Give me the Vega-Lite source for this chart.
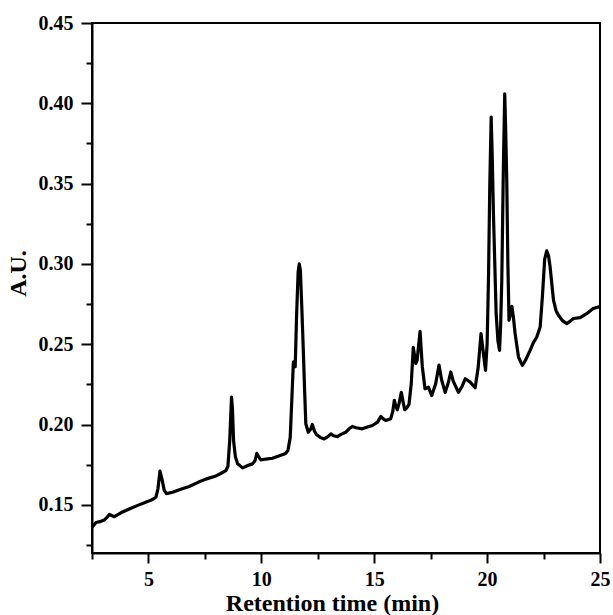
{
  "$schema": "https://vega.github.io/schema/vega-lite/v6.json",
  "width": 508,
  "height": 530,
  "autosize": {"type": "none"},
  "padding": {"left": 92, "top": 23, "right": 13, "bottom": 62},
  "background": "white",
  "config": {
    "view": {"stroke": "black", "strokeWidth": 2},
    "axis": {
      "grid": false,
      "domainColor": "black",
      "domainWidth": 2,
      "tickColor": "black",
      "tickWidth": 2,
      "labelFont": "Liberation Serif",
      "labelFontWeight": "bold",
      "labelFontSize": 20,
      "labelColor": "black",
      "titleFont": "Liberation Serif",
      "titleFontWeight": "bold",
      "titleFontSize": 24,
      "titleColor": "black",
      "labelOverlap": false,
      "labelFlush": false
    }
  },
  "data": {
    "values": [
      {"t": 2.5, "au": 0.136}, {"t": 2.68, "au": 0.139}, {"t": 2.85, "au": 0.1395}, {"t": 3.04, "au": 0.1405},
      {"t": 3.15, "au": 0.142}, {"t": 3.27, "au": 0.144}, {"t": 3.49, "au": 0.1426}, {"t": 3.8, "au": 0.1452},
      {"t": 4.15, "au": 0.1474}, {"t": 4.5, "au": 0.1495}, {"t": 4.96, "au": 0.152}, {"t": 5.2, "au": 0.1535},
      {"t": 5.33, "au": 0.1547}, {"t": 5.42, "au": 0.16}, {"t": 5.51, "au": 0.171}, {"t": 5.6, "au": 0.166},
      {"t": 5.7, "au": 0.159}, {"t": 5.8, "au": 0.157}, {"t": 6.07, "au": 0.1578}, {"t": 6.4, "au": 0.1595},
      {"t": 6.8, "au": 0.1614}, {"t": 7.2, "au": 0.164}, {"t": 7.54, "au": 0.166}, {"t": 7.99, "au": 0.168},
      {"t": 8.2, "au": 0.1695}, {"t": 8.43, "au": 0.1713}, {"t": 8.52, "au": 0.174}, {"t": 8.6, "au": 0.19},
      {"t": 8.68, "au": 0.217}, {"t": 8.72, "au": 0.21}, {"t": 8.77, "au": 0.19}, {"t": 8.85, "au": 0.18},
      {"t": 8.95, "au": 0.1755}, {"t": 9.17, "au": 0.173}, {"t": 9.4, "au": 0.1745}, {"t": 9.61, "au": 0.1755},
      {"t": 9.72, "au": 0.1775}, {"t": 9.8, "au": 0.182}, {"t": 9.88, "au": 0.18}, {"t": 9.98, "au": 0.178},
      {"t": 10.2, "au": 0.1785}, {"t": 10.49, "au": 0.179}, {"t": 10.8, "au": 0.1805}, {"t": 11.08, "au": 0.182},
      {"t": 11.18, "au": 0.184}, {"t": 11.28, "au": 0.192}, {"t": 11.38, "au": 0.2254}, {"t": 11.42, "au": 0.239},
      {"t": 11.5, "au": 0.236}, {"t": 11.56, "au": 0.267}, {"t": 11.63, "au": 0.295}, {"t": 11.68, "au": 0.3},
      {"t": 11.73, "au": 0.296}, {"t": 11.8, "au": 0.27}, {"t": 11.86, "au": 0.246}, {"t": 11.92, "au": 0.22},
      {"t": 11.97, "au": 0.2005}, {"t": 12.08, "au": 0.1952}, {"t": 12.18, "au": 0.197}, {"t": 12.26, "au": 0.2},
      {"t": 12.35, "au": 0.196}, {"t": 12.44, "au": 0.1938}, {"t": 12.6, "au": 0.192}, {"t": 12.78, "au": 0.191},
      {"t": 12.95, "au": 0.1925}, {"t": 13.08, "au": 0.1942}, {"t": 13.2, "au": 0.193}, {"t": 13.37, "au": 0.1925},
      {"t": 13.55, "au": 0.194}, {"t": 13.74, "au": 0.1952}, {"t": 13.9, "au": 0.1975}, {"t": 14.03, "au": 0.1988},
      {"t": 14.2, "au": 0.198}, {"t": 14.47, "au": 0.1973}, {"t": 14.7, "au": 0.1985}, {"t": 14.92, "au": 0.1994},
      {"t": 15.15, "au": 0.2015}, {"t": 15.29, "au": 0.205}, {"t": 15.4, "au": 0.2035}, {"t": 15.51, "au": 0.2025},
      {"t": 15.73, "au": 0.2036}, {"t": 15.82, "au": 0.208}, {"t": 15.89, "au": 0.215}, {"t": 15.95, "au": 0.212},
      {"t": 16.02, "au": 0.2092}, {"t": 16.1, "au": 0.213}, {"t": 16.2, "au": 0.22}, {"t": 16.28, "au": 0.214},
      {"t": 16.35, "au": 0.2092}, {"t": 16.44, "au": 0.2104}, {"t": 16.54, "au": 0.2125}, {"t": 16.64, "au": 0.2254},
      {"t": 16.73, "au": 0.248}, {"t": 16.84, "au": 0.238}, {"t": 16.9, "au": 0.24}, {"t": 17.03, "au": 0.258},
      {"t": 17.13, "au": 0.236}, {"t": 17.25, "au": 0.2223}, {"t": 17.4, "au": 0.2233}, {"t": 17.55, "au": 0.218},
      {"t": 17.72, "au": 0.2254}, {"t": 17.87, "au": 0.237}, {"t": 17.98, "au": 0.228}, {"t": 18.14, "au": 0.22},
      {"t": 18.28, "au": 0.226}, {"t": 18.39, "au": 0.2327}, {"t": 18.5, "au": 0.227}, {"t": 18.73, "au": 0.22},
      {"t": 18.9, "au": 0.224}, {"t": 19.03, "au": 0.2285}, {"t": 19.25, "au": 0.2264}, {"t": 19.47, "au": 0.2229},
      {"t": 19.6, "au": 0.235}, {"t": 19.73, "au": 0.2566}, {"t": 19.83, "au": 0.245}, {"t": 19.93, "au": 0.2337},
      {"t": 20.0, "au": 0.25}, {"t": 20.06, "au": 0.29}, {"t": 20.12, "au": 0.35}, {"t": 20.18, "au": 0.3914},
      {"t": 20.23, "au": 0.365}, {"t": 20.28, "au": 0.3315}, {"t": 20.4, "au": 0.269}, {"t": 20.48, "au": 0.252},
      {"t": 20.55, "au": 0.2462}, {"t": 20.6, "au": 0.262}, {"t": 20.65, "au": 0.29}, {"t": 20.72, "au": 0.36},
      {"t": 20.78, "au": 0.4059}, {"t": 20.82, "au": 0.385}, {"t": 20.87, "au": 0.352}, {"t": 20.92, "au": 0.3},
      {"t": 20.97, "au": 0.265}, {"t": 21.02, "au": 0.268}, {"t": 21.1, "au": 0.2735}, {"t": 21.17, "au": 0.266},
      {"t": 21.24, "au": 0.2566}, {"t": 21.39, "au": 0.242}, {"t": 21.56, "au": 0.2368}, {"t": 21.7, "au": 0.24},
      {"t": 21.9, "au": 0.246}, {"t": 22.05, "au": 0.251}, {"t": 22.2, "au": 0.2545}, {"t": 22.35, "au": 0.2607},
      {"t": 22.45, "au": 0.28}, {"t": 22.55, "au": 0.303}, {"t": 22.64, "au": 0.3081}, {"t": 22.72, "au": 0.305},
      {"t": 22.79, "au": 0.2982}, {"t": 22.94, "au": 0.2774}, {"t": 23.05, "au": 0.271}, {"t": 23.16, "au": 0.268},
      {"t": 23.35, "au": 0.2645}, {"t": 23.53, "au": 0.2628}, {"t": 23.7, "au": 0.2645}, {"t": 23.82, "au": 0.266},
      {"t": 24.12, "au": 0.2666}, {"t": 24.41, "au": 0.269}, {"t": 24.7, "au": 0.2722}, {"t": 25.0, "au": 0.2735}
    ]
  },
  "mark": {"type": "line", "color": "black", "strokeWidth": 3.2, "strokeJoin": "round", "strokeCap": "round", "clip": true},
  "encoding": {
    "x": {
      "field": "t",
      "type": "quantitative",
      "scale": {"domain": [2.5, 25], "nice": false, "zero": false},
      "axis": {
        "title": "Retention time (min)",
        "values": [2.5, 5, 7.5, 10, 12.5, 15, 17.5, 20, 22.5, 25],
        "labelExpr": "datum.value % 5 === 0 ? format(datum.value, 'd') : ''",
        "tickSize": {"condition": {"test": "datum.value % 5 === 0", "value": 10}, "value": 6},
        "labelPadding": 6,
        "titlePadding": 2,
        "titleX": 240
      }
    },
    "y": {
      "field": "au",
      "type": "quantitative",
      "scale": {"domain": [0.12, 0.45], "nice": false, "zero": false},
      "axis": {
        "title": "A.U.",
        "values": [0.125, 0.15, 0.175, 0.2, 0.225, 0.25, 0.275, 0.3, 0.325, 0.35, 0.375, 0.4, 0.425, 0.45],
        "labelExpr": "abs(datum.value * 20 - round(datum.value * 20)) < 0.000001 ? format(datum.value, '.2f') : ''",
        "tickSize": {"condition": {"test": "abs(datum.value * 20 - round(datum.value * 20)) < 0.000001", "value": 11}, "value": 6},
        "labelPadding": 8,
        "titlePadding": 8,
        "titleY": 250
      }
    }
  }
}
